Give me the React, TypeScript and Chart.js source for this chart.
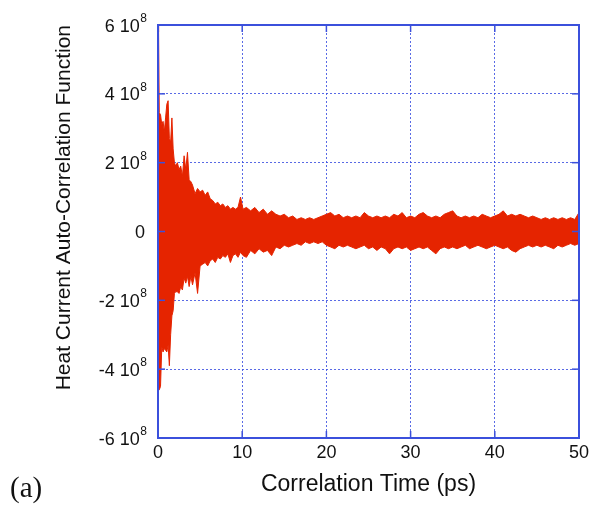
import { useEffect, useRef } from 'react';
import { Chart, registerables } from 'chart.js';

Chart.register(...registerables);

// Correlation time (ps) at which the envelope of the HCACF signal was read
const timePs = [
  0, 0.07, 0.15, 0.3, 0.45, 0.6, 0.75, 0.9, 1.05, 1.2,
  1.35, 1.5, 1.65, 1.8, 1.95, 2.1, 2.3, 2.5, 2.7, 2.9,
  3.1, 3.3, 3.5, 3.7, 3.9, 4.1, 4.4, 4.7, 5.0, 5.3,
  5.6, 5.9, 6.2, 6.5, 6.8, 7.1, 7.4, 7.7, 8.0, 8.3,
  8.6, 8.9, 9.2, 9.5, 9.8, 10.1,
  10.5, 11.0, 11.5, 12.0, 12.5, 13.0, 13.5, 14.0, 14.5, 15.0,
  15.5, 16.0, 16.5, 17.0, 17.5, 18.0, 18.5, 19.0, 19.5, 20.0,
  20.5, 21.0, 21.5, 22.0, 22.5, 23.0, 23.5, 24.0, 24.5, 25.0,
  25.5, 26.0, 26.5, 27.0, 27.5, 28.0, 28.5, 29.0, 29.5, 30.0,
  30.5, 31.0, 31.5, 32.0, 32.5, 33.0, 33.5, 34.0, 34.5, 35.0,
  35.5, 36.0, 36.5, 37.0, 37.5, 38.0, 38.5, 39.0, 39.5, 40.0,
  40.5, 41.0, 41.5, 42.0, 42.5, 43.0, 43.5, 44.0, 44.5, 45.0,
  45.5, 46.0, 46.5, 47.0, 47.5, 48.0, 48.5, 49.0, 49.5, 50.0,
];

// Upper envelope of the signal, in units of 10^8
const upperEnv = [
  6.0, 5.8, 3.45, 3.4, 3.1, 3.2, 2.9, 3.3, 3.7, 3.8,
  2.7, 2.6, 3.3, 2.4, 2.0, 1.9, 2.0, 1.8, 1.9, 1.6,
  2.2, 1.8, 2.3, 1.5, 1.45, 1.35, 1.1, 1.25, 1.15, 1.2,
  1.05, 1.15, 0.95, 0.9, 0.8, 0.85, 0.75, 0.8, 0.7, 0.75,
  0.65, 0.7, 0.65, 0.7, 1.0, 0.65,
  0.7, 0.6, 0.7, 0.55, 0.65, 0.5, 0.6, 0.5, 0.45, 0.5,
  0.4, 0.45, 0.35, 0.4, 0.35, 0.4, 0.35, 0.4, 0.45, 0.5,
  0.55, 0.45, 0.5, 0.4, 0.45, 0.4, 0.45, 0.4, 0.55, 0.45,
  0.4, 0.45, 0.4, 0.45, 0.4, 0.5, 0.45, 0.55, 0.4, 0.45,
  0.4, 0.5, 0.55, 0.45, 0.4, 0.45, 0.4, 0.5, 0.55, 0.6,
  0.45, 0.4, 0.45, 0.4, 0.45, 0.4, 0.5, 0.45, 0.4, 0.45,
  0.5, 0.6, 0.45, 0.5, 0.45, 0.5, 0.45, 0.4, 0.45, 0.4,
  0.35, 0.4, 0.35, 0.4, 0.35, 0.4, 0.35, 0.4, 0.35, 0.55,
];

// Lower envelope of the signal, in units of 10^8
const lowerEnv = [
  -4.6, -4.6, -4.6, -4.5, -3.35, -3.5, -3.4, -3.45, -3.5, -3.3,
  -3.9, -3.0, -2.45, -2.3, -1.8, -1.75, -1.75, -1.8, -1.6, -1.7,
  -1.35, -1.5, -1.3, -1.6, -1.3, -1.55, -1.2, -1.8, -1.0, -0.95,
  -0.9, -1.0, -0.85, -0.8, -0.9, -0.75, -0.8, -0.7, -0.75, -0.65,
  -0.9, -0.7, -0.65, -0.75, -0.6, -0.7,
  -0.75, -0.55, -0.65, -0.5, -0.6, -0.55, -0.7, -0.45, -0.5, -0.4,
  -0.45, -0.4, -0.35, -0.4, -0.3, -0.35, -0.3, -0.35, -0.3, -0.4,
  -0.45, -0.5, -0.4, -0.45, -0.4, -0.45, -0.5, -0.45, -0.4, -0.5,
  -0.45, -0.55, -0.45, -0.5, -0.65, -0.5, -0.45, -0.5, -0.45, -0.55,
  -0.5, -0.45, -0.5, -0.45, -0.55, -0.65, -0.5, -0.45, -0.5, -0.45,
  -0.5, -0.45, -0.4, -0.5, -0.45, -0.4, -0.45, -0.5, -0.45, -0.4,
  -0.45, -0.5, -0.45, -0.55, -0.6, -0.5, -0.45, -0.4, -0.45, -0.4,
  -0.45, -0.4, -0.45, -0.5, -0.4, -0.45, -0.4, -0.35, -0.4, -0.35,
];

const xTicks = [0, 10, 20, 30, 40, 50];
const yTicks = [-6, -4, -2, 0, 2, 4, 6]; // mantissas, in units of 10^8
const yScaleUnit = 1e8;
const yTickBase = '10';
const yTickExponent = '8';

const xTitle = 'Correlation Time (ps)';
const yTitle = 'Heat Current Auto-Correlation Function';
const panelLabel = '(a)';

const RED = 'rgb(229, 36, 0)';
const FRAME = '#3b50dc';
const GRID = 'rgba(60, 80, 225, 0.85)';
const FONT = '"Liberation Sans", Arial, sans-serif';
const TEXT = '#111';

const framePlugin = {
  id: 'frameTicks',
  afterDatasetsDraw(chart: any) {
    const { ctx, chartArea, scales } = chart;
    const { left, right, top, bottom } = chartArea;
    ctx.save();
    ctx.strokeStyle = FRAME;
    ctx.lineWidth = 2;
    ctx.strokeRect(left, top, right - left, bottom - top);
    ctx.lineWidth = 1.5;
    const len = 7;
    const seg = (x1: number, y1: number, x2: number, y2: number) => {
      ctx.beginPath();
      ctx.moveTo(x1, y1);
      ctx.lineTo(x2, y2);
      ctx.stroke();
    };
    yTicks.forEach((v) => {
      const py = scales.y.getPixelForValue(v * yScaleUnit);
      seg(left, py, left + len, py);
      seg(right, py, right - len, py);
    });
    xTicks.forEach((v) => {
      const px = scales.x.getPixelForValue(v);
      seg(px, bottom, px, bottom - len);
      seg(px, top, px, top + len);
    });
    ctx.restore();
  },
  afterDraw(chart: any) {
    // y tick labels of the form "m 10^8" with a real superscript exponent
    const { ctx, chartArea, scales } = chart;
    const rightEdge = chartArea.left - 11;
    ctx.save();
    ctx.fillStyle = TEXT;
    ctx.textBaseline = 'alphabetic';
    ctx.textAlign = 'right';
    yTicks.forEach((m) => {
      const py = scales.y.getPixelForValue(m * yScaleUnit);
      if (m === 0) {
        ctx.font = `18px ${FONT}`;
        ctx.fillText('0', rightEdge - 2, py + 6.5);
        return;
      }
      ctx.font = `12px ${FONT}`;
      const supW = ctx.measureText(yTickExponent).width;
      ctx.fillText(yTickExponent, rightEdge, py - 3);
      ctx.font = `18px ${FONT}`;
      ctx.fillText(`${m} ${yTickBase}`, rightEdge - supW - 0.5, py + 6.5);
    });
    ctx.restore();
  },
};

export default function App() {
  const canvasRef = useRef<HTMLCanvasElement | null>(null);

  useEffect(() => {
    const canvas = canvasRef.current;
    if (!canvas) return;
    const upperData = timePs.map((t, i) => ({ x: t, y: upperEnv[i] * yScaleUnit }));
    const lowerData = timePs.map((t, i) => ({ x: t, y: lowerEnv[i] * yScaleUnit }));

    const chart = new Chart(canvas, {
      type: 'line',
      data: {
        datasets: [
          {
            label: 'upper',
            data: upperData,
            borderColor: RED,
            borderWidth: 1,
            pointRadius: 0,
            tension: 0,
            fill: false,
          },
          {
            label: 'lower',
            data: lowerData,
            borderColor: RED,
            backgroundColor: RED,
            borderWidth: 1,
            pointRadius: 0,
            tension: 0,
            fill: '-1',
          },
        ],
      },
      options: {
        animation: false,
        responsive: false,
        devicePixelRatio: 1,
        layout: { padding: { left: 0, right: 15, top: 25, bottom: 0 } },
        plugins: {
          legend: { display: false },
          tooltip: { enabled: false },
        },
        scales: {
          x: {
            type: 'linear',
            min: 0,
            max: 50,
            afterFit: (scale: any) => {
              scale.height = 74;
            },
            ticks: {
              stepSize: 10,
              padding: 4,
              color: TEXT,
              font: { family: FONT, size: 18 },
            },
            grid: { color: GRID, lineWidth: 1, drawTicks: false },
            border: { display: false, dash: [2, 2] },
            title: {
              display: true,
              text: xTitle,
              color: TEXT,
              font: { family: FONT, size: 23 },
              padding: { top: 0, bottom: 14 },
            },
          },
          y: {
            type: 'linear',
            min: -6 * yScaleUnit,
            max: 6 * yScaleUnit,
            afterFit: (scale: any) => {
              scale.width = 158;
            },
            ticks: {
              stepSize: 2 * yScaleUnit,
              padding: 12,
              color: 'rgba(0,0,0,0)',
              font: { family: FONT, size: 18 },
              callback: (v: any) => {
                const n = Math.round(Number(v) / yScaleUnit);
                return n === 0 ? '0' : `${n} ${yTickBase}${yTickExponent}`;
              },
            },
            grid: { color: GRID, lineWidth: 1, drawTicks: false },
            border: { display: false, dash: [2, 2] },
            title: {
              display: true,
              text: yTitle,
              align: 'end',
              color: TEXT,
              font: { family: FONT, size: 21 },
              padding: { top: 52, bottom: 0 },
            },
          },
        },
      },
      plugins: [framePlugin],
    } as any);

    return () => chart.destroy();
  }, []);

  return (
    <div style={{ position: 'absolute', left: 0, top: 0, width: 594, height: 512, background: '#fff' }}>
      <canvas ref={canvasRef} width={594} height={512} />
      <div
        style={{
          position: 'absolute',
          left: 10,
          top: 473,
          fontFamily: '"Liberation Serif", "Times New Roman", serif',
          fontSize: 29,
          lineHeight: 1,
          color: TEXT,
        }}
      >
        {panelLabel}
      </div>
    </div>
  );
}
